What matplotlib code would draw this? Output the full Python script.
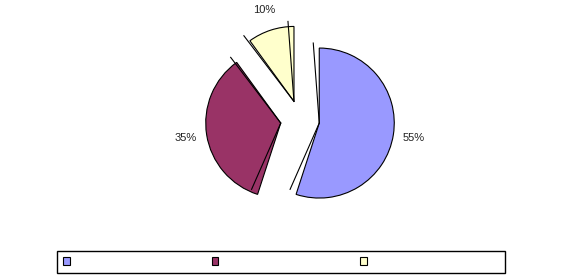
import numpy as np
from matplotlib import pyplot as plt
from matplotlib.patches import Patch

plt.rcParams['font.family'] = ['Liberation Sans', 'DejaVu Sans']

# slice shares (percent) and colours
shares = [55, 35, 10]
colors = ['#9999FF', '#993366', '#FFFFCC']
explode = [0.26, 0.26, 0.26]

fig = plt.figure(figsize=(5.62, 2.79), dpi=100)
ax = fig.add_axes([0, 0, 1, 1])

wedges, texts, autotexts = ax.pie(
  shares, colors=colors, explode=explode, startangle=90, counterclock=False,
  autopct='%1.0f%%', pctdistance=1.28, radius=1,
  wedgeprops=dict(edgecolor='black', linewidth=0.8),
  textprops=dict(fontsize=8, color='#222222'))

# fake the 3D depth: radial edges drawn again, slightly shifted up-left
off = np.array([-0.08, 0.067])
for w in wedges:
  c = np.array(w.center)
  for th in (w.theta1, w.theta2):
    t = np.deg2rad(th)
    tip = c + w.r * np.array([np.cos(t), np.sin(t)]) + off
    ax.plot([c[0], tip[0]], [c[1], tip[1]], color='black', lw=0.8, zorder=5)

# 1 data unit = 75 px, pie centre at (300, 120) px from top-left
ax.set_aspect('auto')
ax.set_xlim(-300 / 75, 262 / 75)
ax.set_ylim(-159 / 75, 120 / 75)
ax.axis('off')

handles = [Patch(facecolor=c, edgecolor='black', linewidth=0.8) for c in colors]
leg = fig.legend(handles, ['', '', ''], ncol=3, loc='lower left',
                 bbox_to_anchor=(57 / 562, 1 - 273 / 279), borderaxespad=0,
                 fontsize=8, handlelength=0.6, handleheight=0.6,
                 handletextpad=11.9, columnspacing=0.86, borderpad=0.55,
                 fancybox=False, framealpha=1, edgecolor='black')
leg.get_frame().set_linewidth(1)

fig.savefig('out.png', dpi=100)
